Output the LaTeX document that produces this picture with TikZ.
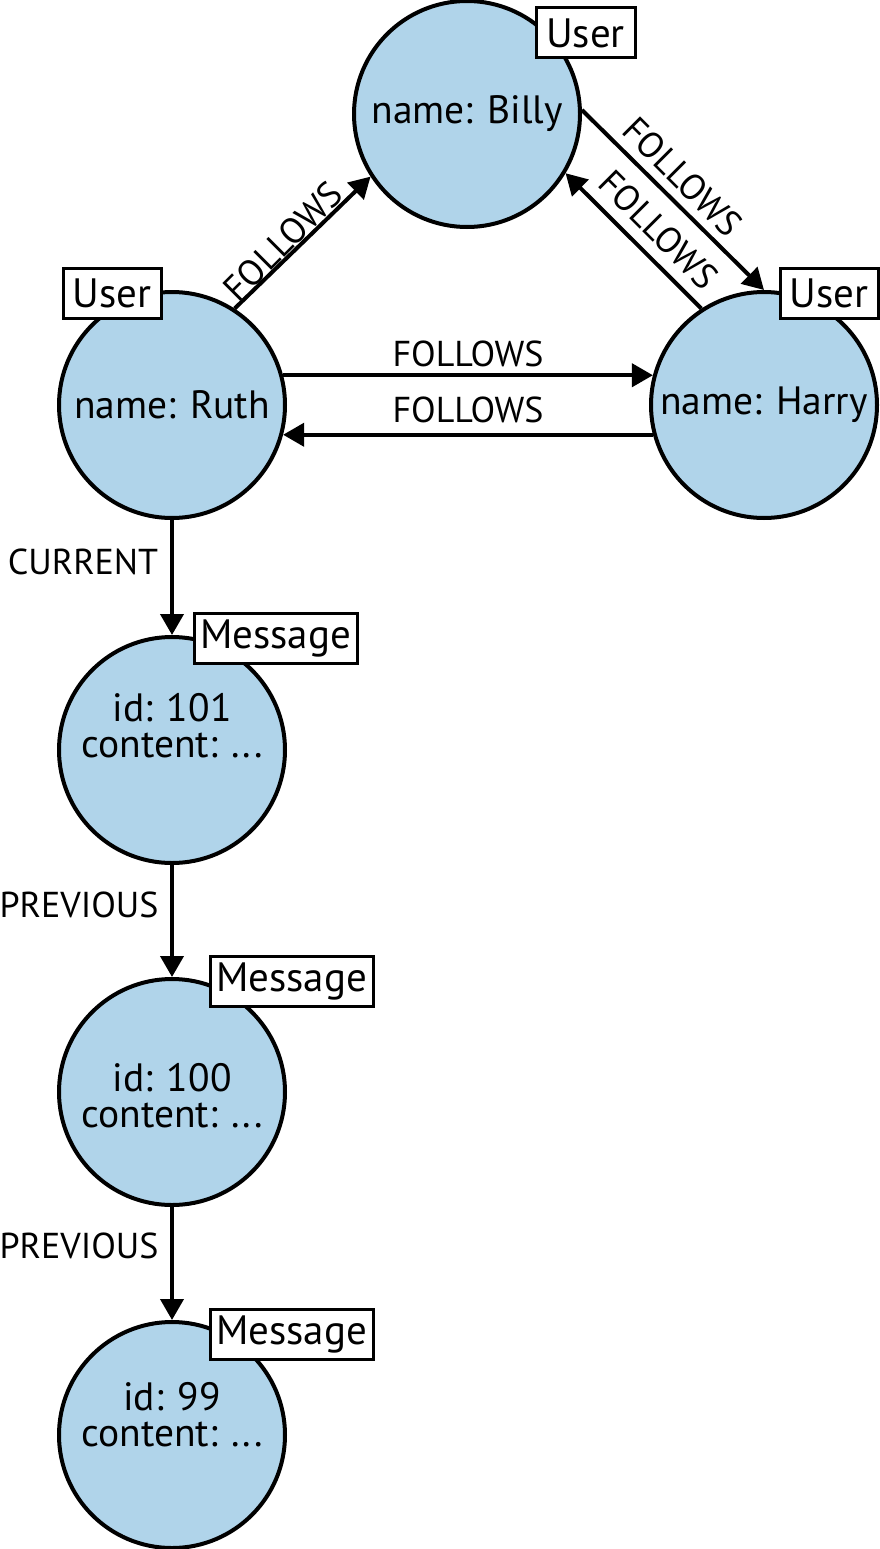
\documentclass[tikz,border=0pt]{standalone}
\usepackage{fontspec}
\setmainfont{PT Sans}
\usetikzlibrary{arrows.meta}
\definecolor{nodeblue}{RGB}{176,212,234}
\begin{document}
\begin{tikzpicture}[x=1pt,y=-1pt,
  ent/.style={circle,draw,line width=4pt,fill=nodeblue,minimum size=226pt,inner sep=0pt,font=\fontsize{39.5}{36}\selectfont,align=center},
  etext/.style={inner sep=0pt,font=\fontsize{39.5}{36}\selectfont,align=center},
  tag/.style={draw,line width=3pt,fill=white,minimum height=50pt,inner sep=0pt,font=\fontsize{41}{41}\selectfont},
  rel/.style={line width=4pt,-{Triangle[length=21pt,width=23pt]}},
  rlab/.style={font=\fontsize{36}{36}\selectfont,inner sep=2pt}]
\useasboundingbox (0,0) rectangle (879,1549);
% entities
\node[ent] (billy) at (467,114) {name: Billy};
\node[ent] (ruth) at (172,405) {name: Ruth};
\node[ent] (harry) at (764,405) {name: Harry};
\node[ent] (m101) at (172,750) {};
\node[ent] (m100) at (172,1092) {};
\node[ent] (m99) at (172,1435) {};
\node[etext] (m101t) at (172,726) {id: 101\\content: ...};
\node[etext] (m100t) at (172,1096) {id: 100\\content: ...};
\node[etext] (m99t) at (172,1415) {id: 99\\content: ...};
% relations
\draw[rel] (ruth.57) -- (billy.213);
\draw[rel] (billy.2) -- (harry.90);
\draw[rel] (harry.123) -- (billy.329);
\draw[rel] (ruth.15) -- (harry.165);
\draw[rel] (harry.195) -- (ruth.345);
\draw[rel] (ruth.south) -- (m101.north);
\draw[rel] (m101.south) -- (m100.north);
\draw[rel] (m100.south) -- (m99.north);
% relation labels
\node[rlab] (f1) at (468,354) {FOLLOWS};
\node[rlab] (f2) at (468,410) {FOLLOWS};
\node[rlab,rotate=45] (f3) at (283,241) {FOLLOWS};
\node[rlab,rotate=-45] (f4) at (683,177) {FOLLOWS};
\node[rlab,rotate=-45] (f5) at (659,230) {FOLLOWS};
\node[rlab] (c1) at (83,562) {CURRENT};
\node[rlab] (p1) at (79,905) {PREVIOUS};
\node[rlab] (p2) at (79,1246) {PREVIOUS};
% type tags
\node[tag,minimum width=99pt] (tb) at (585.5,33) {User};
\node[tag,minimum width=98pt] (th) at (829,293) {User};
\node[tag,minimum width=98pt] (tr) at (112,293.5) {User};
\node[tag,minimum width=163pt] (t101) at (275.5,638) {Message};
\node[tag,minimum width=163pt] (t100) at (291.5,981) {Message};
\node[tag,minimum width=163pt] (t99) at (291.5,1334.5) {Message};
\end{tikzpicture}
\end{document}
